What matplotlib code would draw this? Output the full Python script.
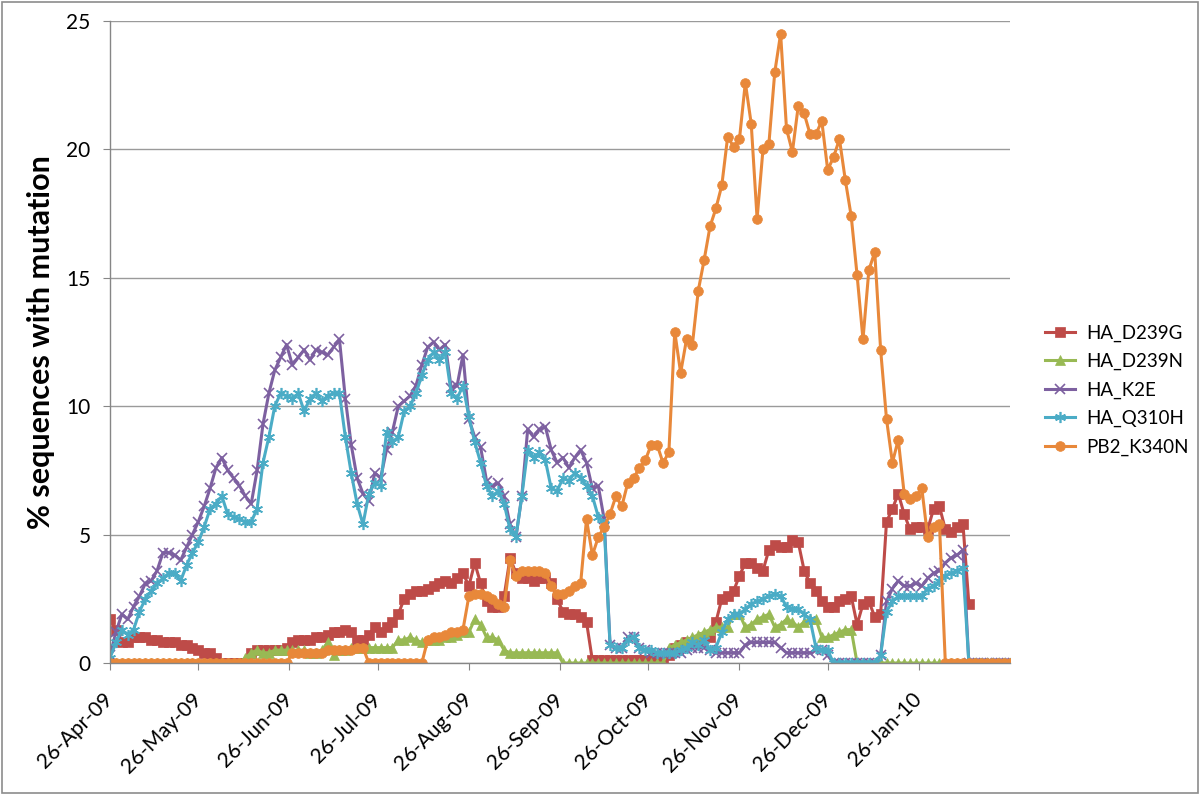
import numpy as np
import pandas as pd
import matplotlib
matplotlib.use('Agg')
import matplotlib.pyplot as plt
import matplotlib.dates as mdates
from matplotlib.patches import Rectangle

plt.rcParams['font.family'] = ['Lato', 'DejaVu Sans']

# ------------------------------------------------------------------
# data: % sequences with mutation, one value every 2 days
# ------------------------------------------------------------------
dates = pd.date_range('2009-04-26', periods=154, freq='2D')

ha_d239g = [1.7, 1.3, 0.8, 0.8, 1.0, 1.0, 1.0, 0.9, 0.9, 0.8,
            0.8, 0.8, 0.7, 0.7, 0.6, 0.5, 0.4, 0.4, 0.2, 0.0,
            0.0, 0.0, 0.0, 0.0, 0.4, 0.5, 0.5, 0.5, 0.5, 0.5,
            0.6, 0.8, 0.9, 0.9, 0.9, 1.0, 1.0, 1.1, 1.2, 1.2,
            1.3, 1.2, 0.9, 0.9, 1.1, 1.4, 1.2, 1.4, 1.6, 1.9,
            2.5, 2.7, 2.8, 2.8, 2.9, 3.0, 3.1, 3.2, 3.1, 3.3,
            3.5, 3.0, 3.9, 3.1, 2.4, 2.2, 2.2, 2.6, 4.1, 3.5,
            3.3, 3.3, 3.2, 3.3, 3.3, 3.1, 2.5, 2.0, 1.9, 1.9,
            1.8, 1.6, 0.1, 0.1, 0.1, 0.1, 0.1, 0.1, 0.1, 0.1,
            0.1, 0.1, 0.1, 0.1, 0.1, 0.3, 0.6, 0.7, 0.8, 0.8,
            0.9, 1.0, 1.0, 1.6, 2.5, 2.6, 2.8, 3.4, 3.9, 3.9,
            3.7, 3.6, 4.4, 4.6, 4.5, 4.5, 4.8, 4.7, 3.6, 3.1,
            2.8, 2.4, 2.2, 2.2, 2.4, 2.5, 2.6, 1.5, 2.3, 2.4,
            1.8, 1.9, 5.5, 6.0, 6.6, 5.8, 5.2, 5.3, 5.3, 5.2,
            6.0, 6.1, 5.2, 5.1, 5.3, 5.4, 2.3, np.nan, np.nan, np.nan,
            np.nan, np.nan, np.nan, np.nan]

ha_d239n = [0.0, 0.0, 0.0, 0.0, 0.0, 0.0, 0.0, 0.0, 0.0, 0.0,
            0.0, 0.0, 0.0, 0.0, 0.0, 0.0, 0.0, 0.0, 0.0, 0.0,
            0.0, 0.0, 0.0, 0.2, 0.4, 0.5, 0.4, 0.4, 0.5, 0.5,
            0.5, 0.5, 0.5, 0.5, 0.4, 0.4, 0.5, 0.8, 0.3, 0.5,
            0.5, 0.6, 0.6, 0.6, 0.6, 0.6, 0.6, 0.6, 0.6, 0.9,
            0.9, 1.0, 0.9, 0.8, 0.9, 0.9, 0.9, 1.0, 1.0, 1.1,
            1.2, 1.2, 1.7, 1.5, 1.0, 1.0, 0.9, 0.5, 0.4, 0.4,
            0.4, 0.4, 0.4, 0.4, 0.4, 0.4, 0.4, 0.0, 0.0, 0.0,
            0.0, 0.0, 0.0, 0.0, 0.0, 0.0, 0.0, 0.0, 0.0, 0.0,
            0.0, 0.0, 0.0, 0.0, 0.0, 0.6, 0.7, 0.8, 0.9, 1.0,
            1.1, 1.2, 1.3, 1.4, 1.4, 1.4, 1.9, 1.9, 1.4, 1.5,
            1.7, 1.8, 1.9, 1.4, 1.5, 1.7, 1.6, 1.4, 1.6, 1.7,
            1.7, 1.0, 1.0, 1.1, 1.2, 1.3, 1.3, 0.0, 0.0, 0.0,
            0.0, 0.0, 0.0, 0.0, 0.0, 0.0, 0.0, 0.0, 0.0, 0.0,
            0.0, 0.0, 0.0, 0.0, 0.0, 0.0, 0.0, 0.0, 0.0, 0.0,
            0.0, 0.0, 0.0, 0.0]

ha_k2e = [0.3, 1.2, 1.9, 1.7, 2.2, 2.6, 3.1, 3.2, 3.6, 4.3,
          4.3, 4.2, 4.0, 4.5, 5.0, 5.5, 6.1, 6.8, 7.6, 8.0,
          7.5, 7.2, 6.9, 6.5, 6.2, 7.5, 9.3, 10.5, 11.4, 11.9,
          12.4, 11.6, 11.9, 12.2, 11.8, 12.2, 12.1, 12.0, 12.3, 12.6,
          10.3, 8.5, 7.2, 6.6, 6.3, 7.4, 7.2, 8.3, 9.0, 10.0,
          10.2, 10.4, 10.8, 11.6, 12.3, 12.5, 12.2, 12.4, 10.7, 10.8,
          12.0, 9.5, 8.8, 8.4, 7.1, 6.9, 7.0, 6.5, 5.4, 4.9,
          6.5, 9.1, 8.8, 9.1, 9.2, 8.3, 7.8, 8.0, 7.6, 8.0,
          8.3, 7.8, 6.8, 6.9, 5.6, 0.7, 0.6, 0.6, 1.0, 1.0,
          0.6, 0.5, 0.4, 0.4, 0.4, 0.4, 0.4, 0.4, 0.5, 0.6,
          0.6, 0.6, 0.5, 0.4, 0.4, 0.4, 0.4, 0.4, 0.7, 0.8,
          0.8, 0.8, 0.8, 0.8, 0.6, 0.4, 0.4, 0.4, 0.4, 0.4,
          0.5, 0.5, 0.3, 0.0, 0.0, 0.0, 0.0, 0.0, 0.0, 0.0,
          0.0, 0.3, 2.4, 2.9, 3.2, 3.0, 3.0, 3.1, 3.0, 3.3,
          3.5, 3.6, 3.9, 4.1, 4.2, 4.4, 0.0, 0.0, 0.0, 0.0,
          0.0, 0.0, 0.0, 0.0]

ha_q310h = [0.2, 0.8, 1.3, 1.1, 1.3, 2.0, 2.5, 2.8, 3.1, 3.3,
            3.5, 3.5, 3.2, 3.8, 4.3, 4.7, 5.3, 6.0, 6.2, 6.5,
            5.8, 5.7, 5.6, 5.5, 5.5, 6.0, 7.8, 8.8, 10.0, 10.5,
            10.4, 10.3, 10.5, 9.8, 10.3, 10.5, 10.2, 10.4, 10.5, 10.5,
            8.8, 7.4, 6.2, 5.4, 6.6, 7.0, 6.9, 9.0, 8.6, 8.8,
            9.8, 10.0, 10.5, 11.2, 11.8, 12.1, 11.8, 12.1, 10.5, 10.3,
            10.8, 9.6, 8.6, 7.8, 6.9, 6.5, 6.7, 6.2, 5.2, 4.9,
            6.5, 8.3, 8.0, 8.2, 7.9, 6.8, 6.7, 7.2, 7.1, 7.4,
            7.2, 6.9, 6.5, 5.7, 5.4, 0.7, 0.6, 0.6, 0.9, 1.0,
            0.6, 0.5, 0.5, 0.4, 0.4, 0.4, 0.4, 0.5, 0.6, 0.8,
            0.7, 0.9, 0.5, 0.6, 1.2, 1.7, 1.9, 1.9, 2.1, 2.3,
            2.4, 2.5, 2.6, 2.7, 2.6, 2.2, 2.1, 2.1, 1.9, 1.7,
            0.6, 0.5, 0.5, 0.0, 0.0, 0.0, 0.0, 0.0, 0.0, 0.0,
            0.0, 0.3, 2.0, 2.4, 2.6, 2.6, 2.6, 2.6, 2.6, 2.9,
            3.0, 3.2, 3.4, 3.5, 3.6, 3.7, 0.0, 0.0, 0.0, 0.0,
            0.0, 0.0, 0.0, 0.0]

pb2_k340n = [0.0, 0.0, 0.0, 0.0, 0.0, 0.0, 0.0, 0.0, 0.0, 0.0,
             0.0, 0.0, 0.0, 0.0, 0.0, 0.0, 0.0, 0.0, 0.0, 0.0,
             0.0, 0.0, 0.0, 0.0, 0.0, 0.0, 0.0, 0.0, 0.0, 0.0,
             0.0, 0.4, 0.4, 0.4, 0.4, 0.4, 0.4, 0.5, 0.5, 0.5,
             0.5, 0.5, 0.6, 0.6, 0.0, 0.0, 0.0, 0.0, 0.0, 0.0,
             0.0, 0.0, 0.0, 0.0, 0.9, 1.0, 1.0, 1.1, 1.2, 1.2,
             1.3, 2.6, 2.7, 2.7, 2.6, 2.5, 2.3, 2.2, 4.0, 3.4,
             3.6, 3.6, 3.6, 3.6, 3.5, 3.0, 2.7, 2.7, 2.8, 3.0,
             3.1, 5.6, 4.2, 4.9, 5.3, 5.8, 6.5, 6.1, 7.0, 7.2,
             7.6, 7.9, 8.5, 8.5, 7.8, 8.2, 12.9, 11.3, 12.6, 12.4,
             14.5, 15.7, 17.0, 17.7, 18.6, 20.5, 20.1, 20.4, 22.6, 21.0,
             17.3, 20.0, 20.2, 23.0, 24.5, 20.8, 19.9, 21.7, 21.4, 20.6,
             20.6, 21.1, 19.2, 19.7, 20.4, 18.8, 17.4, 15.1, 12.6, 15.3,
             16.0, 12.2, 9.5, 7.8, 8.7, 6.6, 6.4, 6.5, 6.8, 4.9,
             5.3, 5.4, 0.0, 0.0, 0.0, 0.0, 0.0, 0.0, 0.0, 0.0,
             0.0, 0.0, 0.0, 0.0]

series = [
    ('HA_D239G', ha_d239g, '#BE4B48', 's', 6.5),
    ('HA_D239N', ha_d239n, '#98B954', '^', 7),
    ('HA_K2E', ha_k2e, '#7D60A0', 'x', 7),
    ('HA_Q310H', ha_q310h, '#4BACC6', (6, 2, 0), 8),
    ('PB2_K340N', pb2_k340n, '#E8883A', 'o', 7),
]

# axis labels on the 26th of each month, Apr-09 .. Jan-10
tick_dates = pd.date_range('2009-04-01', periods=10, freq='MS') + pd.Timedelta(days=25)

# ------------------------------------------------------------------
# plot
# ------------------------------------------------------------------
fig = plt.figure(figsize=(12, 7.95), dpi=100)
ax = fig.add_axes([0.0917, 0.166, 0.75, 0.8076])

for name, vals, col, mk, ms in series:
    ax.plot(dates, vals, color=col, lw=2.2, marker=mk, markersize=ms,
            markeredgewidth=1.2 if mk in ('x',) or isinstance(mk, tuple) else 0.5,
            markeredgecolor=col, markerfacecolor=col, label=name)

ax.set_ylim(0, 25)
ax.set_xlim(pd.Timestamp('2009-04-26'), pd.Timestamp('2010-02-26'))
ax.set_yticks([0, 5, 10, 15, 20, 25])
ax.set_xticks(tick_dates)
ax.xaxis.set_major_formatter(mdates.DateFormatter('%d-%b-%y'))
plt.setp(ax.get_xticklabels(), rotation=45, ha='right', va='center',
         rotation_mode='anchor')
ax.tick_params(axis='x', labelsize=15, length=5, color='#868686', pad=19)
ax.tick_params(axis='y', labelsize=15, length=5, color='#868686', pad=9)

ax.yaxis.grid(True, color='#9a9a9a', lw=1.0)
ax.set_axisbelow(True)
for s in ['top', 'right']:
    ax.spines[s].set_visible(False)
for s in ['left', 'bottom']:
    ax.spines[s].set_color('#868686')
    ax.spines[s].set_linewidth(1.0)

ax.set_ylabel('% sequences with mutation', fontsize=22, fontweight='bold', labelpad=8)

ax.legend(loc='center left', bbox_to_anchor=(1.02, 0.425), frameon=False,
          fontsize=13.5, handlelength=1.6, handletextpad=0.6, labelspacing=0.6)

# light border around the whole chart
fig.patches.append(Rectangle((0.002, 0.002), 0.996, 0.996, transform=fig.transFigure,
                             fill=False, edgecolor='#8c8c8c', lw=1.2))

fig.savefig('out.png', dpi=100)
